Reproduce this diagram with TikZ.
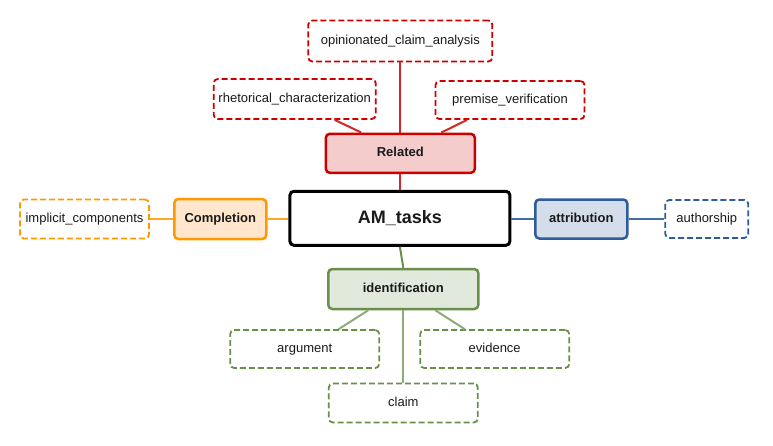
\documentclass[tikz,border=0pt]{standalone}
\usepackage{fontspec}
\setmainfont{Liberation Sans}
\usepackage{tikz}

\definecolor{redline}{HTML}{CC0000}
\definecolor{redfill}{HTML}{F4CCCC}
\definecolor{orangeline}{HTML}{FF9900}
\definecolor{orangefill}{HTML}{FFE6CC}
\definecolor{blueline}{HTML}{2E5C9A}
\definecolor{bluefill}{HTML}{D4DDEA}
\definecolor{greenline}{HTML}{6A8F4A}
\definecolor{greenfill}{HTML}{E1E9DC}
\definecolor{textgray}{HTML}{1A1A1A}

\begin{document}
\begin{tikzpicture}[x=1pt, y=-1pt,
  every node/.style={text=textgray, inner sep=0pt, rounded corners=4pt, text height=9.5pt, text depth=2.5pt},
  hub/.style={draw=black, line width=3pt, fill=white, minimum width=220pt, minimum height=54pt, text height=13pt, text depth=3.5pt, font=\fontsize{18}{20}\selectfont\bfseries},
  cat/.style={line width=2.5pt, minimum width=149pt, minimum height=39pt, font=\fontsize{13}{15}\selectfont\bfseries},
  leaf/.style={dash pattern=on 6pt off 3pt, line width=1.8pt, fill=white, minimum width=149pt, minimum height=39pt, font=\fontsize{13}{15}\selectfont},
  link/.style={line width=2pt}]
\useasboundingbox (0,0) rectangle (773,445);

% centre
\node [hub] (am) at (399.9,218.3) {AM\_tasks};

% Related
\node [cat, draw=redline, fill=redfill] (rel) at (400.3,153.3) {Related};
\node [leaf, draw=redline, minimum width=184pt, minimum height=41pt] (opin) at (400.3,41) {opinionated\_claim\_analysis};
\node [leaf, draw=redline, minimum width=162pt, minimum height=40pt] (rhet) at (294.7,99) {rhetorical\_characterization};
\node [leaf, draw=redline, minimum height=38pt] (prem) at (510,100) {premise\_verification};

% Completion
\node [cat, draw=orangeline, fill=orangefill, minimum width=92pt, minimum height=40pt] (compl) at (220.3,219) {Completion};
\node [leaf, draw=orangeline, minimum width=129pt] (impl) at (84.5,219) {implicit\_components};

% attribution
\node [cat, draw=blueline, fill=bluefill, minimum width=92pt] (attr) at (581.3,219) {attribution};
\node [leaf, draw=blueline, minimum width=83pt, minimum height=38pt] (auth) at (706.8,219) {authorship};

% identification
\node [cat, draw=greenline, fill=greenfill, minimum width=150pt, minimum height=40pt] (ident) at (403.3,289) {identification};
\node [leaf, draw=greenline, minimum height=38pt] (arg) at (304.7,349) {argument};
\node [leaf, draw=greenline, minimum height=38pt] (evid) at (494.7,349) {evidence};
\node [leaf, draw=greenline] (claim) at (403.3,403) {claim};

% connectors
\draw [link, redline!85] (rel.south) -- (am.north -| rel.south);
\draw [link, redline!85] (opin.south) -- (rel.north);
\draw [link, redline!85] ([xshift=-39pt]rel.north) -- ([xshift=40pt]rhet.south);
\draw [link, redline!85] ([xshift=41pt]rel.north) -- ([xshift=-43pt]prem.south);

\draw [link, orangeline!85] (compl.east) -- (am.west |- compl.east);
\draw [link, orangeline!85] (impl.east) -- (compl.west);

\draw [link, blueline!90] (am.east |- attr.west) -- (attr.west);
\draw [link, blueline!90] (attr.east) -- (auth.west);

\draw [link, greenline] (am.south) -- (ident.north);
\draw [link, greenline!75] (ident.south) -- (claim.north);
\draw [link, greenline!75] ([xshift=-35pt]ident.south) -- ([xshift=34pt]arg.north);
\draw [link, greenline!75] ([xshift=32pt]ident.south) -- ([xshift=-30pt]evid.north);
\end{tikzpicture}
\end{document}
